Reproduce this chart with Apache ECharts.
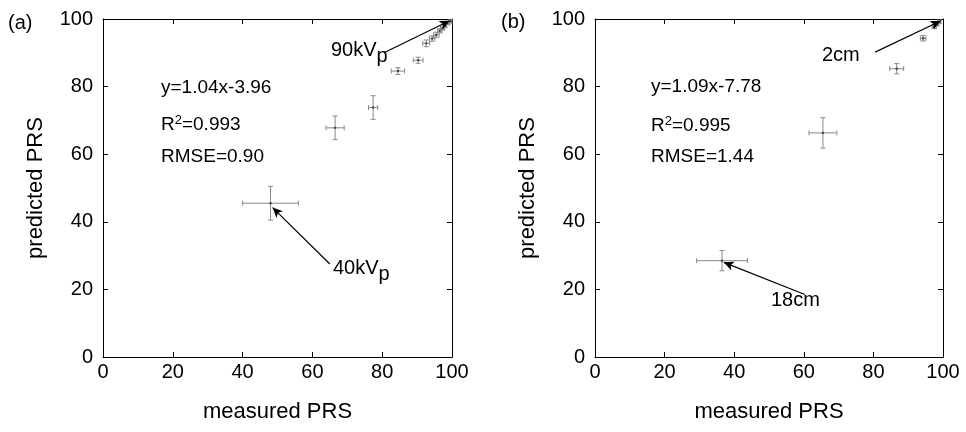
<!DOCTYPE html>
<html>
<head>
<meta charset="utf-8">
<script src="https://cdn.jsdelivr.net/npm/echarts@6/dist/echarts.min.js"></script>
<style>html,body{margin:0;padding:0;background:#fff}#c{width:966px;height:432px}</style>
</head>
<body>
<div id="c"></div>
<script>
// Panel (a): kVp variation
var aX    = [48, 66.5, 77.4, 84.5, 90.3, 92.6, 94.3, 95.5, 96.5, 97.3, 98, 98.8, 99.5];
var aY    = [45.5, 67.8, 73.8, 84.6, 87.8, 92.8, 94.2, 95.3, 96.5, 97.3, 98, 98.8, 99.3];
var aXErr = [8, 2.6, 1.3, 1.9, 1.4, 1, 0.8, 0.8, 0.6, 0.6, 0.5, 0.5, 0.4];
var aYErr = [5, 3.5, 3.5, 1, 0.9, 1, 0.8, 0.8, 0.6, 0.6, 0.5, 0.5, 0.4];
// Panel (b): thickness variation
var bX    = [36.5, 65.5, 86.7, 94.3, 97.5, 98.3, 99];
var bY    = [28.5, 66.3, 85.3, 94.3, 97.8, 98.5, 99.2];
var bXErr = [7.3, 4, 2, 0.8, 0.6, 0.5, 0.4];
var bYErr = [3, 4.5, 1.5, 0.8, 0.6, 0.5, 0.4];
var ticks = [0, 20, 40, 60, 80, 100];

var FONT = 'Liberation Sans';
function rows(x, y, ex, ey) { return x.map(function (v, i) { return [v, y[i], ex[i], ey[i]]; }); }

function renderErr(params, api) {
  var x = api.value(0), y = api.value(1), ex = api.value(2), ey = api.value(3);
  var c = api.coord([x, y]);
  var l = api.coord([x - ex, y]), r = api.coord([x + ex, y]);
  var t = api.coord([x, y + ey]), b = api.coord([x, y - ey]);
  var cap = 2.5;
  var st = { stroke: '#888', lineWidth: 1, fill: null };
  var kids = [
    { type: 'line', shape: { x1: l[0], y1: c[1], x2: r[0], y2: c[1] }, style: st },
    { type: 'line', shape: { x1: c[0], y1: t[1], x2: c[0], y2: b[1] }, style: st },
    { type: 'line', shape: { x1: l[0], y1: c[1] - cap, x2: l[0], y2: c[1] + cap }, style: st },
    { type: 'line', shape: { x1: r[0], y1: c[1] - cap, x2: r[0], y2: c[1] + cap }, style: st },
    { type: 'line', shape: { x1: c[0] - cap, y1: t[1], x2: c[0] + cap, y2: t[1] }, style: st },
    { type: 'line', shape: { x1: c[0] - cap, y1: b[1], x2: c[0] + cap, y2: b[1] }, style: st },
    { type: 'circle', shape: { cx: c[0], cy: c[1], r: 1.2 }, style: { fill: '#444' } }
  ];
  return { type: 'group', children: kids };
}

function xAxes(gi) {
  return [
    { gridIndex: gi, type: 'value', min: 0, max: 100, interval: 20, position: 'bottom',
      name: 'measured PRS', nameLocation: 'middle', nameGap: 44,
      nameTextStyle: { fontFamily: FONT, fontSize: 22, color: '#000' },
      axisLine: { lineStyle: { color: '#000', width: 1 } },
      axisTick: { inside: true, length: 5, lineStyle: { color: '#000' } },
      axisLabel: { fontFamily: FONT, fontSize: 20, color: '#000', margin: 5 },
      splitLine: { show: false } },
    { gridIndex: gi, type: 'value', min: 0, max: 100, interval: 20, position: 'top',
      axisLine: { onZero: false, lineStyle: { color: '#000', width: 1 } },
      axisTick: { inside: true, length: 5, lineStyle: { color: '#000' } },
      axisLabel: { show: false }, splitLine: { show: false } }
  ];
}
function yAxes(gi) {
  return [
    { gridIndex: gi, type: 'value', min: 0, max: 100, interval: 20, position: 'left',
      name: 'predicted PRS', nameLocation: 'middle', nameGap: 56,
      nameTextStyle: { fontFamily: FONT, fontSize: 22, color: '#000' },
      axisLine: { lineStyle: { color: '#000', width: 1 } },
      axisTick: { inside: true, length: 5, lineStyle: { color: '#000' } },
      axisLabel: { fontFamily: FONT, fontSize: 20, color: '#000', margin: 10 },
      splitLine: { show: false } },
    { gridIndex: gi, type: 'value', min: 0, max: 100, interval: 20, position: 'right',
      axisLine: { onZero: false, lineStyle: { color: '#000', width: 1 } },
      axisTick: { inside: true, length: 5, lineStyle: { color: '#000' } },
      axisLabel: { show: false }, splitLine: { show: false } }
  ];
}

function arrowLine(x1, y1, x2, y2) {
  return [{ coord: [x1, y1] }, { coord: [x2, y2] }];
}

var richEq = {
  n: { fontFamily: FONT, fontSize: 19, color: '#000' },
  sup: { fontFamily: FONT, fontSize: 13, color: '#000', verticalAlign: 'top', padding: [0, 0, 9, 0] }
};
var richLab = {
  n: { fontFamily: FONT, fontSize: 20, color: '#000' },
  sub: { fontFamily: FONT, fontSize: 20, color: '#000', padding: [13, 0, 0, 0] }
};

function txt(left, top, s, fs) {
  return { type: 'text', left: left, top: top,
    style: { text: s, fontFamily: FONT, fontSize: fs || 19, fill: '#000' } };
}

var chart = echarts.init(document.getElementById('c'), null, { renderer: 'canvas' });
chart.setOption({
  animation: false,
  backgroundColor: '#fff',
  grid: [
    { left: 103, top: 19, width: 349, height: 338 },
    { left: 595, top: 19, width: 348, height: 338 }
  ],
  xAxis: xAxes(0).concat(xAxes(1)),
  yAxis: yAxes(0).concat(yAxes(1)),
  series: [
    { type: 'custom', xAxisIndex: 0, yAxisIndex: 0, renderItem: renderErr,
      data: rows(aX, aY, aXErr, aYErr), clip: false,
      markLine: { silent: true, symbol: ['none', 'arrow'], symbolSize: [7, 10],
        lineStyle: { color: '#000', width: 1.2, type: 'solid' }, label: { show: false },
        data: [arrowLine(80.5, 90, 99.3, 99.5), arrowLine(65, 27.5, 48.6, 44.2)] } },
    { type: 'custom', xAxisIndex: 2, yAxisIndex: 2, renderItem: renderErr,
      data: rows(bX, bY, bXErr, bYErr), clip: false,
      markLine: { silent: true, symbol: ['none', 'arrow'], symbolSize: [7, 10],
        lineStyle: { color: '#000', width: 1.2, type: 'solid' }, label: { show: false },
        data: [arrowLine(80.5, 90.2, 99.3, 99.4), arrowLine(60.3, 18.5, 37, 28)] } }
  ],
  graphic: [
    txt(8, 13, '(a)', 20),
    txt(501, 12, '(b)', 20),
    txt(161, 78, 'y=1.04x-3.96'),
    { type: 'text', left: 161, top: 114, style: { text: '{n|R}{sup|2}{n|=0.993}', rich: richEq } },
    txt(161, 147, 'RMSE=0.90'),
    { type: 'text', left: 331, top: 40, style: { text: '{n|90kV}{sub|p}', rich: richLab } },
    { type: 'text', left: 333, top: 258, style: { text: '{n|40kV}{sub|p}', rich: richLab } },
    txt(651, 77, 'y=1.09x-7.78'),
    { type: 'text', left: 651, top: 115, style: { text: '{n|R}{sup|2}{n|=0.995}', rich: richEq } },
    txt(651, 147, 'RMSE=1.44'),
    txt(822, 45, '2cm', 20),
    txt(771, 290, '18cm', 20)
  ]
});
</script>
</body>
</html>
